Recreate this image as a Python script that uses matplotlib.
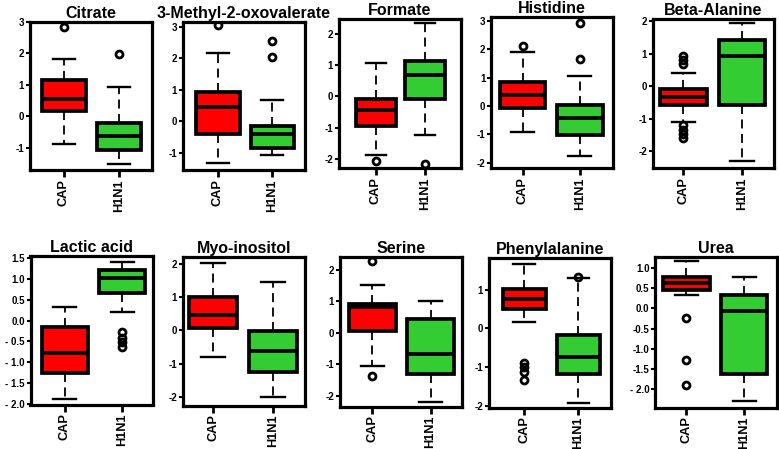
import matplotlib
matplotlib.use('Agg')
import matplotlib.pyplot as plt

plt.rcParams['font.family'] = ['Liberation Sans', 'DejaVu Sans']
plt.rcParams['font.weight'] = 'bold'

# panel titles and groups
titles = ['Citrate', '3-Methyl-2-oxovalerate', 'Formate', 'Histidine', 'Beta-Alanine',
          'Lactic acid', 'Myo-inositol', 'Serine', 'Phenylalanine', 'Urea']
groups = ['CAP', 'H1N1']

# CAP box stats
cap_q1 = [0.17, -0.40, -0.96, -0.06, -0.56, -1.26, 0.06, 0.05, 0.51, 0.46]
cap_med = [0.57, 0.46, -0.42, 0.40, -0.33, -0.78, 0.46, 0.80, 0.75, 0.63]
cap_q3 = [1.16, 0.92, -0.08, 0.85, -0.08, -0.14, 1.00, 0.92, 1.03, 0.78]
cap_lo = [-0.87, -1.33, -1.87, -0.92, -1.11, -1.88, -0.79, -1.07, 0.16, 0.33]
cap_hi = [1.84, 2.18, 1.08, 1.92, 0.41, 0.34, 2.03, 1.50, 1.66, 1.17]
cap_out = [[2.84], [3.05], [-2.09], [2.12],
           [0.69, 0.82, 0.92, -1.19, -1.33, -1.45, -1.60],
           [], [], [2.26, -1.37], [-0.89, -1.00, -1.13, -1.32],
           [-0.23, -1.29, -1.90]]

# H1N1 box stats
h1_q1 = [-1.08, -0.86, -0.09, -1.04, -0.58, 0.66, -1.26, -1.32, -1.18, -1.64]
h1_med = [-0.62, -0.40, 0.70, -0.41, 0.92, 1.03, -0.62, -0.68, -0.74, -0.06]
h1_q3 = [-0.22, -0.16, 1.15, 0.05, 1.43, 1.22, -0.02, 0.44, -0.16, 0.33]
h1_lo = [-1.50, -1.08, -1.23, -1.78, -2.30, 0.22, -2.00, -2.19, -1.93, -2.31]
h1_hi = [0.95, 0.69, 2.35, 1.05, 1.94, 1.42, 1.45, 1.01, 1.30, 0.78]
h1_out = [[1.98], [2.04, 2.57], [-2.16], [1.65, 2.93], [],
          [-0.28, -0.41, -0.52, -0.64], [], [], [1.33], []]

# y ranges and ticks per panel
ylims = [(-1.70, 2.98), (-1.55, 3.16), (-2.30, 2.49), (-2.19, 3.14), (-2.51, 2.07),
         (-2.02, 1.56), (-2.26, 2.20), (-2.34, 2.40), (-2.04, 1.82), (-2.46, 1.275)]
yticks = [[-1, 0, 1, 2, 3], [-1, 0, 1, 2, 3], [-2, -1, 0, 1, 2], [-2, -1, 0, 1, 2, 3],
          [-2, -1, 0, 1, 2], [1.5, 1.0, 0.5, 0.0, -0.5, -1.0, -1.5, -2.0],
          [-2, -1, 0, 1, 2], [-2, -1, 0, 1, 2], [-2, -1, 0, 1],
          [1.0, 0.5, 0.0, -0.5, -1.0, -1.5, -2.0]]
ytick_labels = [None, None, None, None, None,
                ['1.5', '1.0', '0.5', '0.0', '- 0.5', '- 1.0', '- 1.5', '- 2.0'],
                None, None, None,
                ['1.0', '0.5', '0.0', '-0.5', '-1.0', '-1.5', '- 2.0']]
xlims = [(0.37, 2.61), (0.35, 2.60), (0.24, 2.73), (0.45, 2.58), (0.475, 2.545),
         (0.40, 2.54), (0.49, 2.53), (0.44, 2.54), (0.34, 2.60), (0.456, 2.566)]

# axes boxes in pixels: left, right, top, bottom
boxes_px = [(29.5, 152, 22, 170), (182.5, 305, 22, 170), (338.5, 461, 19, 168),
            (491, 613, 17, 168), (652.5, 774, 19, 168),
            (30.5, 153, 256, 404.5), (182.5, 305, 257, 405.5), (339.5, 462, 257, 406.5),
            (488.5, 611, 258, 407.5), (655, 777, 257, 407.5)]

W, H = 779, 449
fig = plt.figure(figsize=(W / 100, H / 100), dpi=100)
fig.patch.set_facecolor('white')

box_colors = ['#ff0000', '#33cc33']

for i in range(10):
    l, r, t, b = boxes_px[i]
    ax = fig.add_axes([l / W, 1 - b / H, (r - l) / W, (b - t) / H])
    stats = [
        dict(q1=cap_q1[i], med=cap_med[i], q3=cap_q3[i], whislo=cap_lo[i],
             whishi=cap_hi[i], fliers=cap_out[i]),
        dict(q1=h1_q1[i], med=h1_med[i], q3=h1_q3[i], whislo=h1_lo[i],
             whishi=h1_hi[i], fliers=h1_out[i]),
    ]
    bp = ax.bxp(stats, positions=[1, 2], widths=0.8, capwidths=0.4,
                patch_artist=True, showfliers=True,
                boxprops=dict(linewidth=2.7, edgecolor='black'),
                medianprops=dict(linewidth=2.7, color='black', solid_capstyle='butt'),
                whiskerprops=dict(linewidth=1.3, color='black', linestyle=(0, (5, 3))),
                capprops=dict(linewidth=1.7, color='black'),
                flierprops=dict(marker='o', markerfacecolor='none',
                                markeredgecolor='black', markersize=5,
                                markeredgewidth=2.0))
    for patch, c in zip(bp['boxes'], box_colors):
        patch.set_facecolor(c)
        patch.set_joinstyle('miter')

    ax.set_xlim(*xlims[i])
    ax.set_ylim(*ylims[i])
    ax.set_xticks([1, 2])
    ax.set_xticklabels(groups, rotation=90, fontsize=9.2, fontweight='bold')
    ax.set_yticks(yticks[i])
    if ytick_labels[i] is not None:
        ax.set_yticklabels(ytick_labels[i])
    else:
        ax.set_yticklabels([str(v) for v in yticks[i]])
    ax.tick_params(axis='y', labelsize=7, length=3, width=1.5, pad=1)
    ax.tick_params(axis='x', length=5, width=2, pad=1.5)
    for lab in ax.get_yticklabels():
        lab.set_fontweight('bold')
    for sp in ax.spines.values():
        sp.set_linewidth(2.3)
    ax.set_title(titles[i], fontsize=11.5, fontweight='bold', pad=3)

fig.savefig('out.png', dpi=100)
